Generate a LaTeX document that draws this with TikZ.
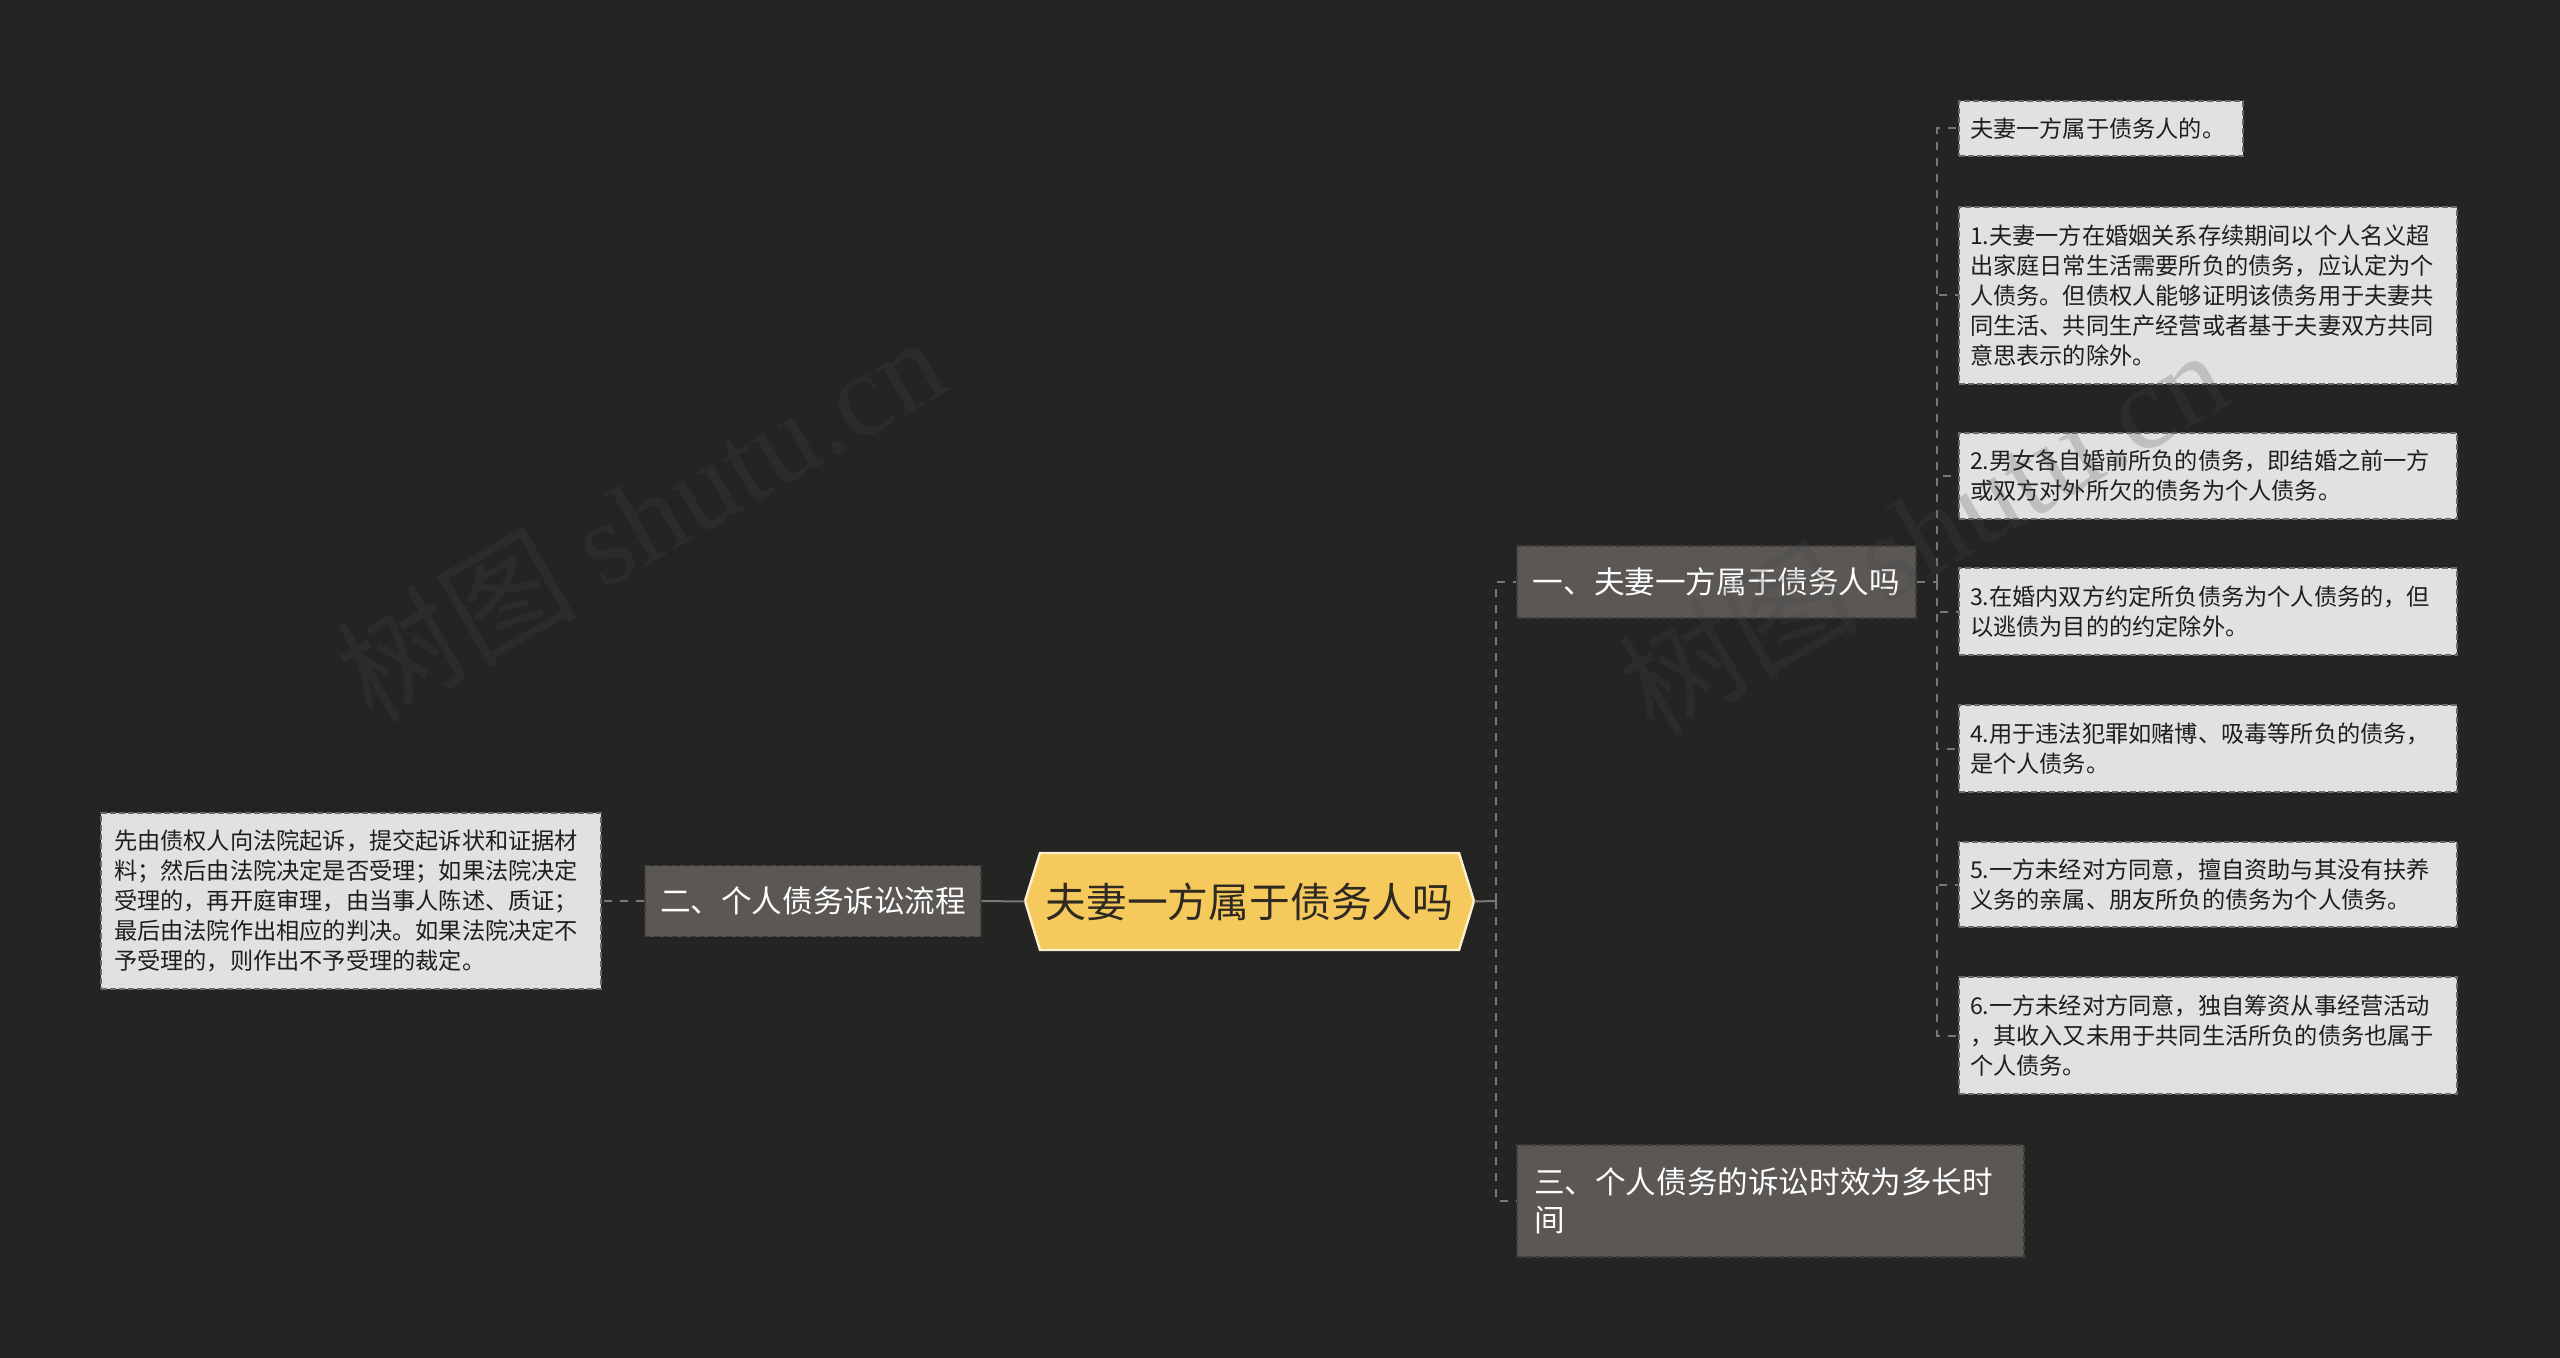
\documentclass[tikz,border=0pt]{standalone}
\usepackage{fontspec}
\setmainfont{Noto Sans CJK SC}
\newfontfamily\wmlatin{Liberation Serif}
\usetikzlibrary{calc}
\definecolor{bg}{HTML}{242422}
\definecolor{hub}{HTML}{F5C95C}
\definecolor{hubedge}{HTML}{FBF1D0}
\definecolor{hubtext}{HTML}{2E2A22}
\definecolor{branchfill}{HTML}{5A5754}
\definecolor{branchedge}{HTML}{3E3C3A}
\definecolor{leaffill}{HTML}{E1E1E0}
\definecolor{leafedge}{HTML}{6A6A6A}
\definecolor{leaftext}{HTML}{1E1E1E}
\definecolor{linkc}{HTML}{7A7876}
\definecolor{wmc}{HTML}{474747}
\begin{document}
\begin{tikzpicture}[x=0.5pt,y=-0.5pt,
  branchbox/.style={draw=branchedge, dash pattern=on 3pt off 1.5pt, fill=branchfill, text=white,
    font=\fontsize{15.3}{19}\selectfont, inner sep=0pt, line width=0.6pt},
  leafbox/.style={draw=leafedge, dash pattern=on 3pt off 1.5pt, fill=leaffill, text=leaftext,
    font=\fontsize{11.6}{15}\selectfont, align=left, inner xsep=5.5pt, inner ysep=0pt, line width=0.6pt},
  link/.style={draw=linkc, line width=1pt},
  dlink/.style={link, dash pattern=on 4pt off 4pt},
  wm/.style={text=wmc, text opacity=0.22, font=\fontsize{60}{60}\selectfont, inner sep=0pt, rotate=30}
]
\path[use as bounding box, fill=bg] (0,0) rectangle (2560,1358);

% central hexagon
\filldraw[fill=hub, draw=hubedge, line width=1.2pt]
  (1025,901) -- (1040,853) -- (1459,853) -- (1474,901) -- (1459,950) -- (1040,950) -- cycle;
\node[minimum width=224.5pt, minimum height=48.5pt, inner sep=0pt, text=hubtext,
  font=\fontsize{20.4}{24}\selectfont] (c) at (1249.5,901.5) {夫妻一方属于债务人吗};

% branches
\node[branchbox, minimum width=199.5pt, minimum height=36pt] (b1) at (1716.5,582) {一、夫妻一方属于债务人吗};
\node[branchbox, minimum width=168pt, minimum height=35.5pt] (b2) at (813,901) {二、个人债务诉讼流程};
\node[branchbox, align=left, text width=236.5pt, inner xsep=8.5pt, minimum height=56pt] (b3) at (1770.5,1201)
  {三、个人债务的诉讼时效为多长时\\间};

% left leaf
\node[leafbox, text width=237pt, inner xsep=6.5pt, minimum height=88pt] (lf) at (351,901)
  {先由债权人向法院起诉，提交起诉状和证据材\\料；然后由法院决定是否受理；如果法院决定\\受理的，再开庭审理，由当事人陈述、质证；\\最后由法院作出相应的判决。如果法院决定不\\予受理的，则作出不予受理的裁定。};

% right leaves
\node[leafbox, text width=131pt, minimum height=27.5pt] (l0) at (2101,128.5) {夫妻一方属于债务人的。};
\node[leafbox, text width=238pt, minimum height=88.5pt] (l1) at (2208,295.5)
  {1.夫妻一方在婚姻关系存续期间以个人名义超\\出家庭日常生活需要所负的债务，应认定为个\\人债务。但债权人能够证明该债务用于夫妻共\\同生活、共同生产经营或者基于夫妻双方共同\\意思表示的除外。};
\node[leafbox, text width=238pt, minimum height=43pt] (l2) at (2208,476)
  {2.男女各自婚前所负的债务，即结婚之前一方\\或双方对外所欠的债务为个人债务。};
\node[leafbox, text width=238pt, minimum height=43.5pt] (l3) at (2208,611.5)
  {3.在婚内双方约定所负债务为个人债务的，但\\以逃债为目的的约定除外。};
\node[leafbox, text width=238pt, minimum height=43.5pt] (l4) at (2208,748.5)
  {4.用于违法犯罪如赌博、吸毒等所负的债务，\\是个人债务。};
\node[leafbox, text width=238pt, minimum height=42.5pt] (l5) at (2208,884.5)
  {5.一方未经对方同意，擅自资助与其没有扶养\\义务的亲属、朋友所负的债务为个人债务。};
\node[leafbox, text width=238pt, minimum height=58.5pt] (l6) at (2208,1035.5)
  {6.一方未经对方同意，独自筹资从事经营活动\\，其收入又未用于共同生活所负的债务也属于\\个人债务。};

% connectors
\draw[link] (c.west) -- (b2.east);
\draw[dlink] (b2.west) -- (lf.east);
\coordinate (t1) at (1496,901);
\draw[link] (c.east) -- (t1);
\draw[dlink] (t1) |- (b1.west);
\draw[dlink] (t1) |- (b3.west);
\coordinate (t2) at (1937,582);
\draw[dlink] (b1.east) -- (t2);
\foreach \n in {l0,l1,l2,l3,l4,l5,l6} {\draw[dlink] (t2) |- (\n.west);}

% watermarks
\node[wm] (w1) at (640,517) {树图 {\wmlatin shutu.cn}};
\node[wm] (w2) at (1922,530) {树图 {\wmlatin shutu.cn}};
\end{tikzpicture}
\end{document}
